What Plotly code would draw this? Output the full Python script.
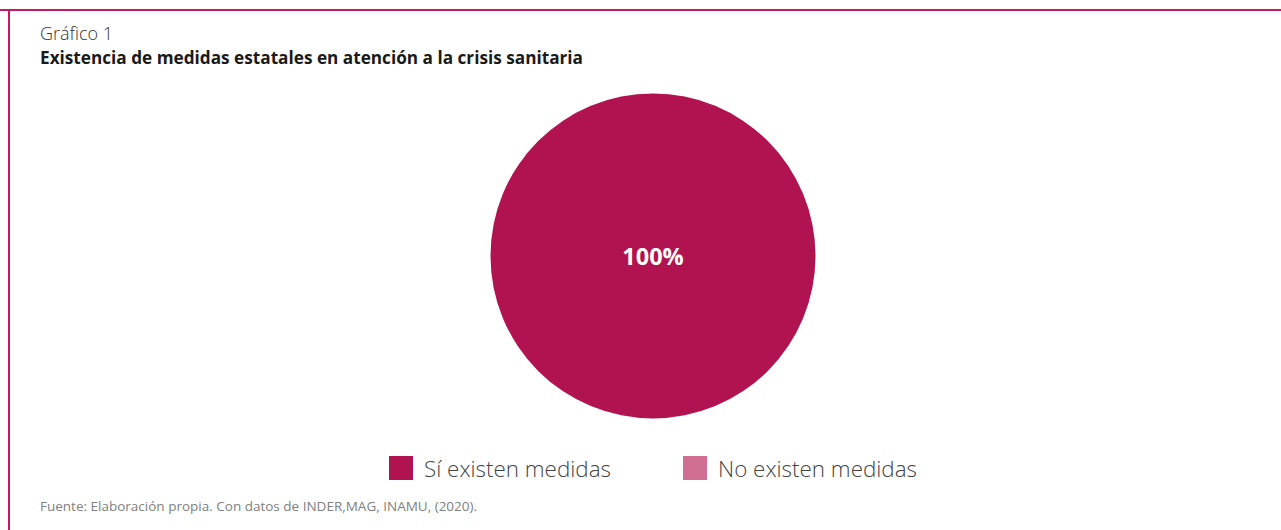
import plotly.graph_objects as go

labels = ["Sí existen medidas", "No existen medidas"]
values = [100, 0]
colors = ["#B01350", "#D06E93"]
title_top = "Gráfico 1"
title_main = "Existencia de medidas estatales en atención a la crisis sanitaria"
source = "Fuente: Elaboración propia. Con datos de INDER,MAG, INAMU, (2020)."

W, H = 1281, 530
FONT = "Open Sans"

texts = ["%{percent:.0%}" if v > 0 else "" for v in values]

fig = go.Figure(go.Pie(
    labels=labels, values=values, sort=False, direction="clockwise",
    marker=dict(colors=colors, line=dict(width=0)),
    texttemplate=texts, textposition="inside",
    insidetextfont=dict(family=FONT, size=23.5, color="white", weight="bold"),
    domain=dict(x=[0.3829, 0.6366], y=[0.2104, 0.8236]),
    showlegend=False, hoverinfo="label+percent",
))

shapes = [
    dict(type="line", xref="paper", yref="paper", x0=0, x1=1, y0=1 - 10 / H, y1=1 - 10 / H,
         line=dict(color="#C8195E", width=2)),
    dict(type="line", xref="paper", yref="paper", x0=9 / W, x1=9 / W, y0=0, y1=1 - 10 / H,
         line=dict(color="#C8195E", width=2)),
]
annotations = [
    dict(text=title_top, x=38 / W, y=1 - 33 / H, xref="paper", yref="paper", xanchor="left",
         yanchor="middle", showarrow=False, font=dict(family=FONT, size=18, color="#333333", weight=300)),
    dict(text="<b>" + title_main + "</b>", x=38 / W, y=1 - 58 / H, xref="paper", yref="paper",
         xanchor="left", yanchor="middle", showarrow=False,
         font=dict(family=FONT, size=17.2, color="#1a1a1a")),
    dict(text=source, x=38 / W, y=1 - 506 / H, xref="paper", yref="paper", xanchor="left",
         yanchor="middle", showarrow=False, font=dict(family=FONT, size=13.5, color="#808080")),
]

legend_x = [389, 683]
for lab, col, lx in zip(labels, colors, legend_x):
    shapes.append(dict(type="rect", xref="paper", yref="paper",
                       x0=lx / W, x1=(lx + 24) / W, y0=1 - 480 / H, y1=1 - 456 / H,
                       fillcolor=col, line=dict(width=0)))
    annotations.append(dict(text=lab, x=(lx + 33) / W, y=1 - 468 / H, xref="paper", yref="paper",
                            xanchor="left", yanchor="middle", showarrow=False,
                            font=dict(family=FONT, size=22.4, color="#444444", weight=300)))

fig.update_layout(
    width=W, height=H, margin=dict(l=0, r=0, t=0, b=0),
    paper_bgcolor="white", plot_bgcolor="white",
    shapes=shapes, annotations=annotations,
)
fig.write_html("out.html")
